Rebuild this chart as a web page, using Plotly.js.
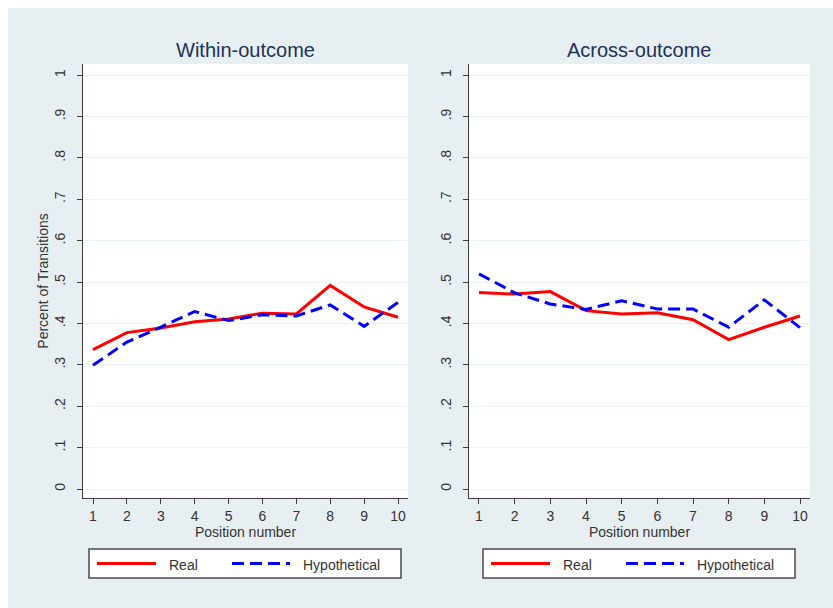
<!DOCTYPE html>
<html>
<head>
<meta charset="utf-8">
<script src="https://cdn.plot.ly/plotly-3.0.1.min.js"></script>
<style>
  html, body { margin: 0; padding: 0; background: #ffffff; }
  #chart { width: 833px; height: 608px; }
</style>
</head>
<body>
<div id="chart"></div>
<script>
// Position within the sequence (x axis)
const positions = [1, 2, 3, 4, 5, 6, 7, 8, 9, 10];

// Share of transitions, within-outcome panel
const withinReal = [0.337, 0.378, 0.389, 0.404, 0.411, 0.425, 0.423, 0.492, 0.440, 0.415];
const withinHyp  = [0.299, 0.355, 0.391, 0.429, 0.407, 0.421, 0.418, 0.445, 0.393, 0.451];

// Share of transitions, across-outcome panel
const acrossReal = [0.475, 0.471, 0.477, 0.431, 0.423, 0.426, 0.409, 0.361, 0.391, 0.418];
const acrossHyp  = [0.520, 0.474, 0.447, 0.434, 0.455, 0.435, 0.435, 0.391, 0.457, 0.390];

// Y tick values and their Stata-style labels
const yTicks  = [0, 0.1, 0.2, 0.3, 0.4, 0.5, 0.6, 0.7, 0.8, 0.9, 1];
const yLabels = ['0', '.1', '.2', '.3', '.4', '.5', '.6', '.7', '.8', '.9', '1'];

const panelTitles = ['Within-outcome', 'Across-outcome'];
const seriesNames = ['Real', 'Hypothetical'];

const FONT = '"Liberation Sans", Arial, Helvetica, sans-serif';
const BG = '#e8eff2';
const GRID = '#e9f1f4';
const AXIS = '#3c3c3c';
const TEXT = '#333333';
const RED = '#ff0000';
const BLUE = '#0000ff';
const DASH = '12px,6px';

// figure geometry (pixels)
const W = 833, H = 608;
const M = { l: 83, r: 23, t: 64, b: 110 };
const PW = W - M.l - M.r, PH = H - M.t - M.b;
// convert a pixel position into paper coordinates
const px = p => (p - M.l) / PW;
const py = p => (H - M.b - p) / PH;

function realTrace(y, xa, ya) {
  return {
    x: positions, y: y, xaxis: xa, yaxis: ya,
    type: 'scatter', mode: 'lines', name: seriesNames[0], showlegend: false,
    line: { color: RED, width: 3 }
  };
}
function hypTrace(y, xa, ya) {
  return {
    x: positions, y: y, xaxis: xa, yaxis: ya,
    type: 'scatter', mode: 'lines', name: seriesNames[1], showlegend: false,
    line: { color: BLUE, width: 3, dash: DASH }
  };
}

const data = [
  realTrace(withinReal, 'x', 'y'),
  hypTrace(withinHyp, 'x', 'y'),
  realTrace(acrossReal, 'x2', 'y2'),
  hypTrace(acrossHyp, 'x2', 'y2')
];

function xAxis(domain, range, anchor) {
  return {
    domain: domain, range: range, anchor: anchor,
    tickmode: 'array', tickvals: positions,
    showgrid: false, zeroline: false,
    showline: true, linecolor: AXIS, linewidth: 1,
    ticks: 'outside', ticklen: 5, tickwidth: 1, tickcolor: AXIS,
    ticklabelstandoff: 0,
    tickfont: { family: FONT, size: 14, color: TEXT },
    title: { text: 'Position number', font: { family: FONT, size: 14, color: TEXT }, standoff: 4 },
    fixedrange: true
  };
}
function yAxis(anchor, titleText) {
  return {
    domain: [0, 1], range: [-0.0217, 1.027], anchor: anchor,
    tickmode: 'array', tickvals: yTicks, ticktext: yLabels, tickangle: -90,
    showgrid: true, gridcolor: GRID, gridwidth: 1, zeroline: false,
    showline: true, linecolor: AXIS, linewidth: 1,
    ticks: 'outside', ticklen: 5, tickwidth: 1, tickcolor: AXIS,
    ticklabelstandoff: 6,
    tickfont: { family: FONT, size: 14, color: TEXT },
    title: { text: titleText, font: { family: FONT, size: 14, color: TEXT }, standoff: 0 },
    fixedrange: true
  };
}

// Legend key drawn under each panel: framed box, line samples and labels
function legendKey(left) {
  const top = 549, bottom = 578, mid = 563.5;
  const shapes = [
    { type: 'rect', xref: 'paper', yref: 'paper',
      x0: px(left), x1: px(left + 312), y0: py(bottom), y1: py(top),
      fillcolor: '#ffffff', line: { color: '#4a4a4a', width: 1.5 }, layer: 'above' },
    { type: 'line', xref: 'paper', yref: 'paper',
      x0: px(left + 8), x1: px(left + 67), y0: py(mid), y1: py(mid),
      line: { color: RED, width: 3 }, layer: 'above' },
    { type: 'line', xref: 'paper', yref: 'paper',
      x0: px(left + 143), x1: px(left + 201), y0: py(mid), y1: py(mid),
      line: { color: BLUE, width: 3, dash: DASH }, layer: 'above' }
  ];
  const labels = [
    { text: seriesNames[0], xref: 'paper', yref: 'paper', x: px(left + 78), y: py(mid + 1),
      xanchor: 'left', yanchor: 'middle', showarrow: false,
      font: { family: FONT, size: 14, color: TEXT } },
    { text: seriesNames[1], xref: 'paper', yref: 'paper', x: px(left + 212), y: py(mid + 1),
      xanchor: 'left', yanchor: 'middle', showarrow: false,
      font: { family: FONT, size: 14, color: TEXT } }
  ];
  return { shapes, labels };
}
const keyLeft = legendKey(89);
const keyRight = legendKey(483);

const layout = {
  width: W, height: H,
  margin: { l: M.l, r: M.r, t: M.t, b: M.b, pad: 0 },
  paper_bgcolor: BG, plot_bgcolor: '#ffffff',
  font: { family: FONT, size: 14, color: TEXT },
  showlegend: false,
  xaxis: xAxis([0, px(408)], [0.705, 10.295], 'y'),
  yaxis: yAxis('x', 'Percent of Transitions'),
  xaxis2: xAxis([px(469), 1], [0.72, 10.28], 'y2'),
  yaxis2: yAxis('x2', ''),
  annotations: [
    { text: panelTitles[0], xref: 'paper', yref: 'paper', x: px(245.5), y: py(50),
      xanchor: 'center', yanchor: 'middle', showarrow: false,
      font: { family: FONT, size: 20, color: '#22305a' } },
    { text: panelTitles[1], xref: 'paper', yref: 'paper', x: px(639.5), y: py(50),
      xanchor: 'center', yanchor: 'middle', showarrow: false,
      font: { family: FONT, size: 20, color: '#22305a' } }
  ].concat(keyLeft.labels, keyRight.labels),
  shapes: [
    // thin white frame along the top and left edges of the figure
    { type: 'rect', xref: 'paper', yref: 'paper', x0: px(-2), x1: px(W + 2), y0: py(8), y1: py(-2),
      fillcolor: '#ffffff', line: { width: 0 }, layer: 'above' },
    { type: 'rect', xref: 'paper', yref: 'paper', x0: px(-2), x1: px(8), y0: py(H + 2), y1: py(-2),
      fillcolor: '#ffffff', line: { width: 0 }, layer: 'above' }
  ].concat(keyLeft.shapes, keyRight.shapes)
};

Plotly.newPlot('chart', data, layout, { displayModeBar: false, staticPlot: true });
</script>
</body>
</html>
